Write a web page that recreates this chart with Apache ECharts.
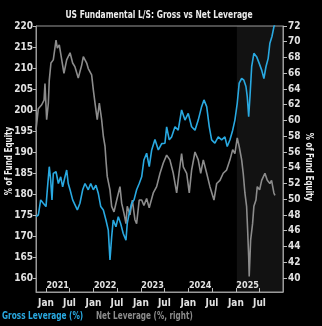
<!DOCTYPE html>
<html><head><meta charset="utf-8">
<script src="https://cdn.jsdelivr.net/npm/echarts@6/dist/echarts.min.js"></script>
<style>html,body{margin:0;padding:0;background:#000;}#c{width:322px;height:326px;}</style>
</head><body><div id="c"></div>
<script>
var TITLE = 'US Fundamental L/S: Gross vs Net Leverage';
var Y_NAME = '% of Fund Equity';
var GROSS_NAME = 'Gross Leverage (%)';
var NET_NAME = 'Net Leverage (%, right)';
var grossDates = ['2020-10-16','2020-11-03','2020-11-21','2020-12-11','2021-01-01','2021-01-11','2021-01-26','2021-02-06','2021-02-16','2021-02-26','2021-03-19','2021-04-06','2021-04-24','2021-05-09','2021-05-27','2021-06-09','2021-06-21','2021-07-05','2021-07-25','2021-08-12','2021-08-30','2021-09-19','2021-10-10','2021-10-28','2021-11-22','2021-12-11','2021-12-31','2022-01-20','2022-02-07','2022-02-26','2022-03-18','2022-04-07','2022-04-25','2022-05-08','2022-05-21','2022-06-02','2022-06-23','2022-07-11','2022-07-29','2022-08-18','2022-09-08','2022-09-18','2022-10-03','2022-10-22','2022-11-09','2022-11-29','2022-12-19','2023-01-07','2023-01-24','2023-02-14','2023-03-06','2023-03-25','2023-04-19','2023-05-15','2023-06-10','2023-07-05','2023-07-18','2023-08-07','2023-08-25','2023-09-20','2023-10-15','2023-11-10','2023-12-06','2023-12-31','2024-01-26','2024-02-21','2024-03-17','2024-04-12','2024-04-30','2024-05-21','2024-06-10','2024-06-28','2024-07-23','2024-08-18','2024-09-13','2024-10-08','2024-10-26','2024-11-16','2024-12-07','2024-12-24','2025-01-11','2025-01-26','2025-02-14','2025-03-03','2025-03-19','2025-03-29','2025-04-09','2025-04-19','2025-05-02','2025-05-19','2025-06-09','2025-06-29','2025-07-18','2025-08-04','2025-08-20','2025-09-06','2025-09-19','2025-10-05','2025-10-20','2025-10-28'];
var grossValues = [174.6,175.0,178.6,177.8,177.0,181.0,186.5,183.3,178.6,184.9,185.3,182.5,184.1,181.7,184.1,185.7,182.5,181.0,178.6,177.4,176.2,177.8,181.0,182.5,181.0,182.5,181.0,182.1,180.2,177.0,176.2,173.8,171.4,164.3,169.8,173.8,172.2,174.6,173.0,170.6,169.0,173.0,175.4,177.8,178.6,181.0,182.5,184.1,188.1,189.7,186.5,190.5,193.0,190.5,192.0,192.1,196.0,192.9,193.6,196.0,195.2,200.0,197.6,199.2,196.0,195.2,197.6,200.8,202.4,200.8,196.0,192.9,192.1,193.6,192.9,193.6,191.3,192.9,195.2,197.6,201.6,206.4,207.5,207.1,205.6,203.2,198.4,203.2,210.3,213.5,212.7,211.1,209.5,207.5,210.3,212.3,215.9,217.5,219.8,220.5];
var netDates = ['2020-10-16','2020-11-03','2020-11-29','2020-12-17','2020-12-24','2021-01-06','2021-01-19','2021-01-26','2021-02-08','2021-02-26','2021-03-19','2021-03-29','2021-04-13','2021-05-02','2021-05-19','2021-06-09','2021-07-05','2021-07-25','2021-08-12','2021-09-06','2021-10-02','2021-10-15','2021-11-10','2021-11-22','2021-12-18','2021-12-31','2022-01-13','2022-01-30','2022-02-15','2022-03-05','2022-03-18','2022-03-31','2022-04-07','2022-04-17','2022-05-08','2022-05-21','2022-06-08','2022-06-29','2022-07-24','2022-08-06','2022-08-24','2022-09-08','2022-09-18','2022-10-09','2022-10-27','2022-11-16','2022-11-29','2022-12-19','2023-01-07','2023-01-24','2023-02-14','2023-03-06','2023-03-12','2023-04-06','2023-05-02','2023-05-28','2023-06-22','2023-07-18','2023-08-12','2023-09-07','2023-10-03','2023-10-21','2023-11-10','2023-11-23','2023-12-19','2024-01-08','2024-01-26','2024-02-21','2024-03-17','2024-04-05','2024-04-25','2024-05-21','2024-06-15','2024-07-16','2024-08-06','2024-08-31','2024-09-25','2024-10-21','2024-11-16','2024-12-07','2024-12-24','2025-01-11','2025-01-26','2025-02-14','2025-02-26','2025-03-11','2025-03-24','2025-04-01','2025-04-09','2025-04-13','2025-04-24','2025-05-09','2025-05-19','2025-06-04','2025-06-14','2025-07-02','2025-07-18','2025-08-12','2025-08-30','2025-09-19','2025-10-02','2025-10-20','2025-10-28'];
var netValues = [58.8,61.5,62.0,62.6,64.7,60.1,62.2,65.1,67.3,67.7,70.2,69.2,69.6,67.7,66.0,67.7,68.6,67.3,66.8,65.4,67.0,68.1,67.3,66.6,65.8,63.9,62.2,60.1,62.2,60.1,58.0,56.7,55.0,52.9,51.2,49.1,48.4,49.9,51.6,49.5,48.2,46.9,49.1,48.0,49.9,47.4,46.9,49.9,49.9,49.2,50.1,48.9,49.3,50.8,51.6,53.3,54.6,55.6,55.0,53.3,50.8,53.3,55.8,54.1,53.3,50.8,53.7,56.0,55.0,53.3,55.0,53.3,51.6,49.9,52.0,52.4,53.3,53.7,55.0,56.3,55.8,57.8,56.7,55.0,53.3,50.8,49.1,46.1,42.7,40.2,44.8,46.9,49.1,49.9,51.6,51.2,52.4,53.3,52.4,52.0,52.4,50.8,50.5];
var leftTicks = [160,165,170,175,180,185,190,195,200,205,210,215,220];
var rightTicks = [40,42,44,46,48,50,52,54,56,58,60,62,64,66,68,70,72];
var monthTicks = ['2021-01-01','2021-07-01','2022-01-01','2022-07-01','2023-01-01','2023-07-01','2024-01-01','2024-07-01','2025-01-01','2025-07-01'];
var yearLabelDates = ['2021-04-01','2022-04-01','2023-04-01','2024-04-01','2025-04-01'];
var shadeStart = '2025-01-08';
var xMin = '2020-10-16', xMax = '2025-12-29';

var FONT = '"DejaVu Sans Condensed","DejaVu Sans",sans-serif';
var ts = function(d){ return +new Date(d + 'T00:00:00Z'); };
var MON = ['Jan','Feb','Mar','Apr','May','Jun','Jul','Aug','Sep','Oct','Nov','Dec'];
var lblStyle = {color:'#e2e2e2', fontFamily:FONT, fontWeight:'bold', fontSize:10};
var BLUE = '#29a9e1', GREY = '#8c8c8c';

function txt(x, y, text, color, size, sx, rot, align){
  return {type:'text', x:x, y:y, scaleX:sx, scaleY:1, rotation:rot||0, silent:true,
    style:{text:text, fill:color, fontFamily:FONT, fontWeight:'bold', fontSize:size,
      align:align||'center', verticalAlign:'middle', textAlign:align||'center', textVerticalAlign:'middle'}};
}

var chart = echarts.init(document.getElementById('c'), null, {renderer:'canvas'});
chart.setOption({
  backgroundColor:'#000',
  animation:false,
  graphic:[
    txt(159, 15, TITLE, '#ececec', 10.5, 0.8, 0, 'center'),
    txt(9, 161, Y_NAME, '#f0f0f0', 10, 0.8, Math.PI/2, 'center'),
    txt(309, 167, Y_NAME, '#f0f0f0', 10, 0.8, -Math.PI/2, 'center'),
    txt(2, 316.5, GROSS_NAME, BLUE, 10, 0.82, 0, 'left'),
    txt(96, 316.5, NET_NAME, GREY, 10, 0.81, 0, 'left')
  ],
  grid:{left:36, right:39, top:26, bottom:34, show:true, borderColor:'#9a9a9a', borderWidth:1},
  xAxis:[{type:'value', min:ts(xMin), max:ts(xMax), gridIndex:0,
    axisLine:{show:true, lineStyle:{color:'#9a9a9a'}},
    axisTick:{show:true, inside:true, length:4, customValues:monthTicks.map(ts), lineStyle:{color:'#bbb'}},
    axisLabel:Object.assign({customValues:monthTicks.map(ts), margin:6, formatter:function(v){return MON[new Date(v).getUTCMonth()];}}, lblStyle),
    splitLine:{show:false}},
   {type:'value', min:ts(xMin), max:ts(xMax), gridIndex:0, position:'bottom',
    axisLine:{show:false}, axisTick:{show:false}, splitLine:{show:false},
    axisLabel:Object.assign({inside:true, margin:2, customValues:yearLabelDates.map(ts), formatter:function(v){return String(new Date(v).getUTCFullYear());}}, lblStyle, {fontSize:9})}],
  yAxis:[{type:'value', min:156.667, max:220, position:'left',
    axisLine:{show:true, lineStyle:{color:'#9a9a9a'}},
    axisTick:{show:true, length:3, customValues:leftTicks, lineStyle:{color:'#bbb'}},
    axisLabel:Object.assign({customValues:leftTicks, margin:3}, lblStyle),
    splitLine:{show:false}},
   {type:'value', min:38.222, max:72, position:'right',
    axisLine:{show:true, lineStyle:{color:'#9a9a9a'}},
    axisTick:{show:true, length:4, customValues:rightTicks, lineStyle:{color:'#bbb'}},
    axisLabel:Object.assign({customValues:rightTicks, margin:5}, lblStyle),
    splitLine:{show:false}}],
  series:[
    {name:NET_NAME, type:'line', xAxisIndex:0, yAxisIndex:1, showSymbol:false, symbol:'none',
     data:netDates.map(function(d,i){return [ts(d), netValues[i]];}),
     lineStyle:{color:GREY, width:1.6}, itemStyle:{color:GREY},
     markArea:{silent:true, itemStyle:{color:'rgba(255,255,255,0.07)'}, data:[[{xAxis:ts(shadeStart)},{xAxis:ts(xMax)}]]}},
    {name:GROSS_NAME, type:'line', xAxisIndex:0, yAxisIndex:0, showSymbol:false, symbol:'none', clip:true,
     data:grossDates.map(function(d,i){return [ts(d), grossValues[i]];}),
     lineStyle:{color:BLUE, width:1.6}, itemStyle:{color:BLUE}}
  ]
});
</script></body></html>
